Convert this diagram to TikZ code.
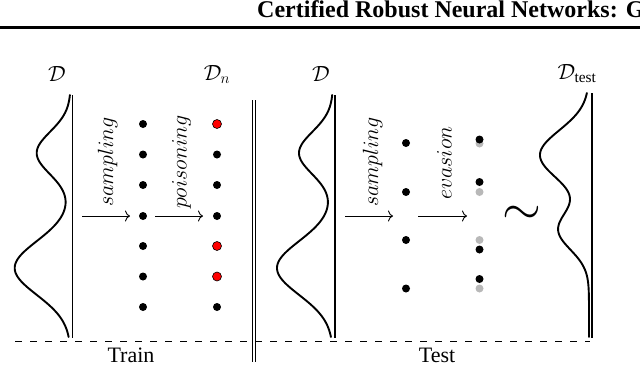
\RequirePackage{fix-cm}
\documentclass[tikz,border=0pt]{standalone}
\usepackage{amsmath}
\usepackage{fontspec}
\setmainfont{Liberation Serif}
\usetikzlibrary{arrows.meta}
\begin{document}
\begin{tikzpicture}[x=1pt,y=-1pt,
  curve/.style={line width=1.9pt, line join=round, line cap=round},
  axisline/.style={line width=1.1pt},
  arr/.style={-{To[length=5pt,width=11pt]}, line width=0.9pt},
  dot/.style={circle, fill=black, inner sep=0pt, minimum size=8pt},
  reddot/.style={circle, fill=red, draw=black, line width=0.6pt, inner sep=0pt, minimum size=9pt},
  graydot/.style={circle, fill=black!28, inner sep=0pt, minimum size=8pt},
  lbl/.style={font=\fontsize{22}{26}\selectfont, inner sep=0pt},
  rlbl/.style={lbl, rotate=90, anchor=west}]
\useasboundingbox (0,0) rectangle (640,365);

% header
\node[anchor=base west, inner sep=0pt, font=\bfseries\fontsize{24}{28}\selectfont] (hdr) at (257,17.5) {Certified Robust Neural Networks: G};
\draw[line width=2.4pt] (0,27.3) -- (640,27.3);

% densities
\draw[curve] plot[domain=95:337, samples=140, variable=\t]
  ({72.7-2-34*exp(-((\t-153)/30)^2)-56*exp(-((\t-268)/38)^2)},\t);
\draw[axisline] (72.7,95) -- (72.7,338);
\draw[curve] plot[domain=95:337, samples=140, variable=\t]
  ({335-2-34*exp(-((\t-153)/30)^2)-56*exp(-((\t-268)/38)^2)},\t);
\draw[axisline] (335,95) -- (335,338);
\draw[curve] plot[domain=93:337, samples=140, variable=\t]
  ({592-3-49*exp(-((\t-155)/35)^2)-30.4*exp(-((\t-230)/28)^2)},\t);
\draw[axisline] (592,93) -- (592,338);

% labels
\node[lbl, anchor=base] (lD1) at (57,81) {$\mathcal{D}$};
\node[lbl, anchor=base] (lDn) at (217,80) {$\mathcal{D}_n$};
\node[lbl, anchor=base] (lD2) at (321,81) {$\mathcal{D}$};
\node[lbl, anchor=base] (lDt) at (577,79) {$\mathcal{D}_{\text{test}}$};

% separators
\draw[line width=1pt] (252,100) -- (252,362);
\draw[line width=1pt] (255.6,100) -- (255.6,362);
\draw[line width=0.9pt, dash pattern=on 6.5pt off 8.5pt] (15,341) -- (590,341);
\node[lbl, anchor=base] (train) at (131,362) {Train};
\node[lbl, anchor=base] (test) at (437,362) {Test};

% train dots
\foreach \i/\y in {1/124,2/154.5,3/185,4/216,5/246,6/276.5,7/307}
  \node[dot] (t\i) at (143,\y) {};
\foreach \i/\y in {2/154.5,3/185,4/216,7/307}
  \node[dot] (p\i) at (217,\y) {};
\foreach \i/\y in {1/124,5/246,6/276.5}
  \node[reddot] (p\i) at (217,\y) {};

% train arrows
\coordinate (a1s) at (82,216);
\draw[arr] (a1s) -- ([xshift=-13pt]t4.center);
\draw[arr] ([xshift=12pt]t4.center) -- ([xshift=-14pt]p4.center);
\node[rlbl] (samp1) at (107.5,207) {$sampling$};
\node[rlbl] (pois) at (181.5,209) {$poisoning$};

% test dots
\foreach \i/\y in {1/143,2/192,3/240,4/288.5}
  \node[dot] (s\i) at (406,\y) {};
\foreach \i/\y in {1/143.5,2/192,3/240,4/288.5}
  \node[graydot] (g\i) at (479.5,\y) {};
\foreach \i/\y in {1/139.5,2/182,3/249.5,4/279}
  \node[dot] (e\i) at (479.5,\y) {};

% test arrows
\coordinate (b1s) at (345,216);
\coordinate (b1e) at (393,216);
\coordinate (b2s) at (418,216);
\coordinate (b2e) at (467,216);
\draw[arr] (b1s) -- (b1e);
\draw[arr] (b2s) -- (b2e);
\node[rlbl] (samp2) at (372.5,207) {$sampling$};
\node[rlbl] (evas) at (444.5,200) {$evasion$};

% tilde
\node[font=\fontsize{50}{50}\selectfont, inner sep=0pt] (tl) at (522,215) {$\sim$};
\end{tikzpicture}
\end{document}
